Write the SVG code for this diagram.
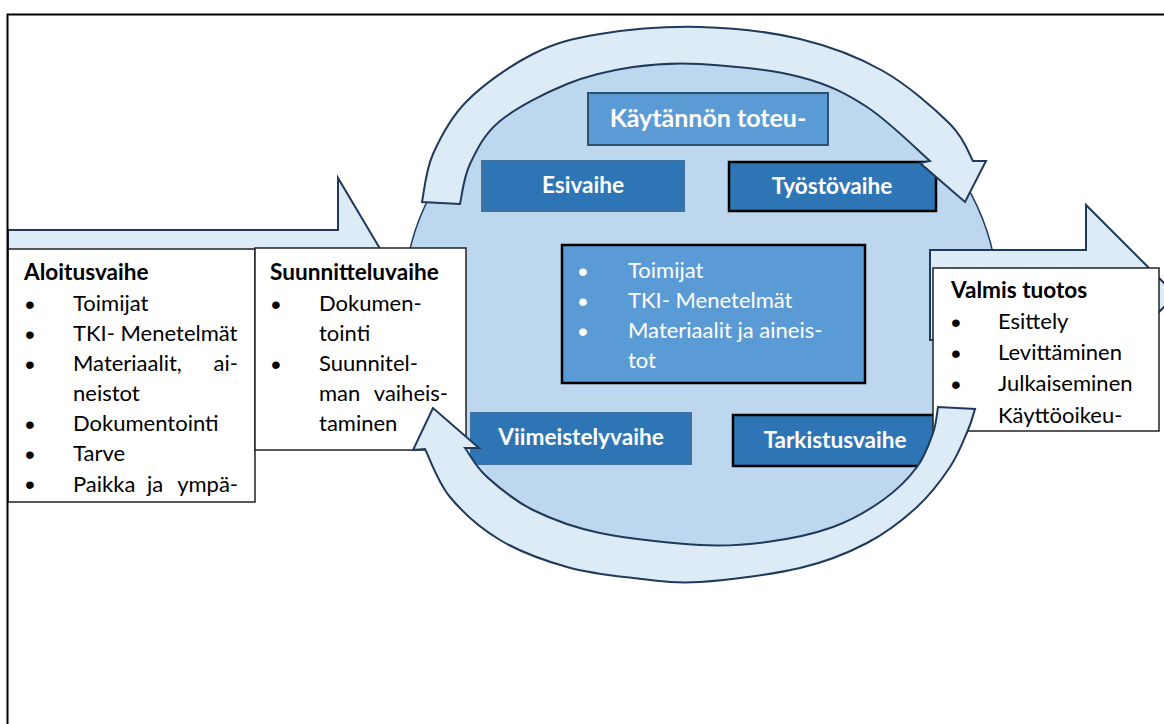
<svg xmlns="http://www.w3.org/2000/svg" width="1164" height="724" viewBox="0 0 1164 724">
<defs>
<style>
.frame{fill:none;stroke:#000;stroke-width:2}
.blk{fill:#ddebf7;stroke:#1f3a5a;stroke-width:2;stroke-linejoin:miter}
.circ{fill:#bdd7ee;stroke:#22405f;stroke-width:1.5}
.boxw{fill:#fff;stroke:#222;stroke-width:1.5}
.boxd{fill:#2e75b6;stroke:#41719c;stroke-width:2}
.boxk{fill:#2e75b6;stroke:#000;stroke-width:2.5}
.boxl{fill:#5b9bd5;stroke:#2f4f6f;stroke-width:2}
.boxc{fill:#5b9bd5;stroke:#000;stroke-width:2.5}
text{font-family:Lato,"Liberation Sans",sans-serif;font-size:22px;fill:#000}
.b{font-weight:bold;font-size:22.6px}
.w{fill:#fff}
.h{font-size:25px}
.m{text-anchor:middle}
.e{text-anchor:end}
.bu{font-family:"Liberation Sans",Arial,sans-serif;font-size:28px;text-anchor:middle}
</style>
<clipPath id="clipA"><rect x="8" y="249" width="247" height="253"/></clipPath>
<clipPath id="clipV"><rect x="933" y="268" width="226" height="163"/></clipPath>
</defs>
<rect width="1164" height="724" fill="#fff"/>

<g id="arrow-in">
<path class="blk" d="M8,230 L338,230 L338,178 L398,279 L338,380 L338,327 L8,327 Z"/>
</g>

<g id="cycle">
<ellipse class="circ" cx="701" cy="300" rx="297" ry="255"/>
</g>

<g id="arrow-out">
<path class="blk" d="M930,250 L1086,250 L1086,205 L1176,295 L1086,385 L1086,340 L930,340 Z"/>
</g>

<g id="kaytannon">
<rect class="boxl" x="588" y="93" width="240" height="52"/>
<text class="b w h m" x="708" y="127">Käytännön toteu-</text>
</g>

<g id="esivaihe">
<rect class="boxd" x="482" y="161" width="202" height="50"/>
<text class="b w m" x="583" y="193">Esivaihe</text>
</g>

<g id="tyostovaihe">
<rect class="boxk" x="729" y="162" width="207" height="49"/>
<text class="b w m" x="832" y="194">Työstövaihe</text>
</g>

<g id="keskus">
<rect class="boxc" x="562" y="245" width="303" height="138"/>
<text class="bu w" x="583" y="281">•</text>
<text class="bu w" x="583" y="311">•</text>
<text class="bu w" x="583" y="341">•</text>
<text class="w" x="628" y="278">Toimijat</text>
<text class="w" x="628" y="308">TKI- Menetelmät</text>
<text class="w" x="628" y="338">Materiaalit ja aineis-</text>
<text class="w" x="628" y="368">tot</text>
</g>

<g id="viimeistelyvaihe">
<rect class="boxd" x="471" y="413" width="220" height="51"/>
<text class="b w m" x="581" y="445">Viimeistelyvaihe</text>
</g>

<g id="tarkistusvaihe">
<rect class="boxk" x="733" y="415" width="202" height="51"/>
<text class="b w m" x="835" y="448">Tarkistusvaihe</text>
</g>

<g id="aloitusvaihe">
<rect class="boxw" x="8" y="249" width="247" height="253"/>
<g clip-path="url(#clipA)">
<text class="b" x="24" y="280">Aloitusvaihe</text>
<text class="bu" x="30" y="314">•</text>
<text class="bu" x="30" y="344">•</text>
<text class="bu" x="30" y="374">•</text>
<text class="bu" x="30" y="434">•</text>
<text class="bu" x="30" y="464">•</text>
<text class="bu" x="30" y="494">•</text>
<text x="73" y="311">Toimijat</text>
<text x="73" y="341">TKI- Menetelmät</text>
<text x="73" y="371">Materiaalit,</text>
<text class="e" x="238" y="371">ai-</text>
<text x="73" y="401">neistot</text>
<text x="73" y="431">Dokumentointi</text>
<text x="73" y="461">Tarve</text>
<text x="73" y="492">Paikka</text>
<text x="147" y="492">ja</text>
<text class="e" x="238" y="492">ympä-</text>
</g>
</g>

<g id="suunnitteluvaihe">
<rect class="boxw" x="255" y="248" width="211" height="202"/>
<text class="b" x="270" y="280">Suunnitteluvaihe</text>
<text class="bu" x="276" y="314">•</text>
<text class="bu" x="276" y="374">•</text>
<text x="319" y="311">Dokumen-</text>
<text x="319" y="341">tointi</text>
<text x="319" y="371">Suunnitel-</text>
<text x="319" y="401">man</text>
<text class="e" x="448" y="401">vaiheis-</text>
<text x="319" y="431">taminen</text>
</g>

<g id="valmis">
<rect class="boxw" x="933" y="268" width="226" height="163"/>
<g clip-path="url(#clipV)">
<text class="b" x="951" y="298">Valmis tuotos</text>
<text class="bu" x="956" y="332">•</text>
<text class="bu" x="956" y="363">•</text>
<text class="bu" x="956" y="394">•</text>
<text x="998" y="329">Esittely</text>
<text x="998" y="360">Levittäminen</text>
<text x="998" y="391">Julkaiseminen</text>
<text x="998" y="423">Käyttöoikeu-</text>
</g>
</g>

<g id="connectors">
<path class="blk" d="M422,202 C423.8,194 425.5,170.8 433,154 C440.5,137.2 450.3,117.7 467,101 C483.7,84.3 510.8,65.2 533,54 C555.2,42.8 572.2,38.5 600,34 C627.8,29.5 666.7,26.2 700,27 C733.3,27.8 769.5,31.7 800,39 C830.5,46.3 858,56.8 883,71 C908,85.2 935,109 950,124 C965,139 969.2,154.8 973,161 L986,161 L965,202 L920,163 L930,161 C919.5,152 888.7,121 867,107 C845.3,93 827.8,84.2 800,77 C772.2,69.8 727.8,65.7 700,64 C672.2,62.3 655.2,63.7 633,67 C610.8,70.3 589.2,75 567,84 C544.8,93 516.2,107.7 500,121 C483.8,134.3 476.7,150.2 470,164 C463.3,177.8 461.7,197.3 460,204 Z"/>
<path class="blk" d="M433,408 L413,450 L425,449 C429.2,457 437.5,481.8 450,497 C462.5,512.2 480.5,528.3 500,540 C519.5,551.7 544.8,560.7 567,567 C589.2,573.3 610.8,575.5 633,578 C655.2,580.5 672.2,583.7 700,582 C727.8,580.3 772.2,574.5 800,568 C827.8,561.5 847.5,553.2 867,543 C886.5,532.8 903.2,519.7 917,507 C930.8,494.3 941.5,479.8 950,467 C958.5,454.2 963.8,439.7 968,430 C972.2,420.3 973.8,412.5 975,409 L938,407 C937.2,411.3 936.5,423 933,433 C929.5,443 925.3,455.8 917,467 C908.7,478.2 897,490 883,500 C869,510 852.3,520 833,527 C813.7,534 789.2,539 767,542 C744.8,545 727.8,546.5 700,545 C672.2,543.5 627.8,538.8 600,533 C572.2,527.2 551.8,519.3 533,510 C514.2,500.7 498.3,487.3 487,477 C475.7,466.7 468.7,452.8 465,448 L479,448 Z"/>
</g>

<g id="frame">
<path class="frame" d="M7.5,724 L7.5,14.5 L1164,14.5"/>
</g>
</svg>
